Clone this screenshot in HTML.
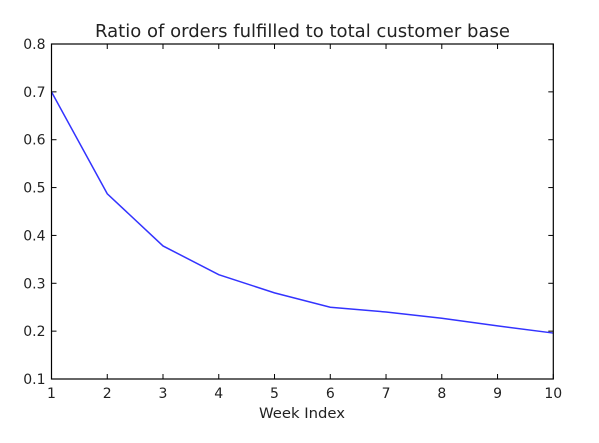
<!DOCTYPE html>
<html><head><meta charset="utf-8"><style>
html,body{margin:0;padding:0;background:#fff;}
svg{display:block;font-family:"DejaVu Sans","Liberation Sans",sans-serif;}
</style></head><body>
<svg id="chart" width="599" height="443">
<g id="g"></g>
</svg>
<script>
const weeks = [1,2,3,4,5,6,7,8,9,10];
const ratios = [0.70,0.487,0.378,0.318,0.28,0.25,0.24,0.227,0.211,0.196];
const xTicks = [1,2,3,4,5,6,7,8,9,10];
const yTicks = [0.1,0.2,0.3,0.4,0.5,0.6,0.7,0.8];
const L=51.5,R=553.3,T=44,B=379;
const xs=v=>L+(v-1)/9*(R-L);
const ys=v=>B-(v-0.1)/0.7*(B-T);
const NS='http://www.w3.org/2000/svg';
const g=document.getElementById('g');
function mk(tag,attrs,parent){const e=document.createElementNS(NS,tag);for(const k in attrs)e.setAttribute(k,attrs[k]);(parent||g).appendChild(e);return e;}
let t=mk('text',{x:302.5,y:37,'text-anchor':'middle','font-size':17.5,fill:'#222',textLength:415,lengthAdjust:'spacingAndGlyphs'});
t.textContent='Ratio of orders fulfilled to total customer base';


let xl=mk('text',{x:302,y:418,'text-anchor':'middle','font-size':14,fill:'#222',textLength:86,lengthAdjust:'spacingAndGlyphs'});
xl.textContent='Week Index';


xTicks.forEach(v=>{
 const x=xs(v);
 mk('line',{x1:x,x2:x,y1:B,y2:B-5,stroke:'#000'});
 mk('line',{x1:x,x2:x,y1:T,y2:T+5,stroke:'#000'});
 const e=mk('text',{x:x,y:B+19,'text-anchor':'middle','font-size':14,fill:'#222'});
 e.textContent=v;
 
 
});
yTicks.forEach(v=>{
 const y=ys(v);
 mk('line',{x1:L,x2:L+5,y1:y,y2:y,stroke:'#000'});
 mk('line',{x1:R,x2:R-5,y1:y,y2:y,stroke:'#000'});
 const e=mk('text',{x:L-6,y:y+5,'text-anchor':'end','font-size':14,fill:'#222'});
 e.textContent=v.toFixed(1);
 
 
});
const p=mk('polyline',{points:weeks.map((w,i)=>xs(w)+','+ys(ratios[i])).join(' '),fill:'none',stroke:'#3333ff','stroke-width':1.5});


const f=mk('rect',{x:L,y:T,width:R-L,height:B-T,fill:'none',stroke:'#000','stroke-width':1.2});


</script>
</body></html>
